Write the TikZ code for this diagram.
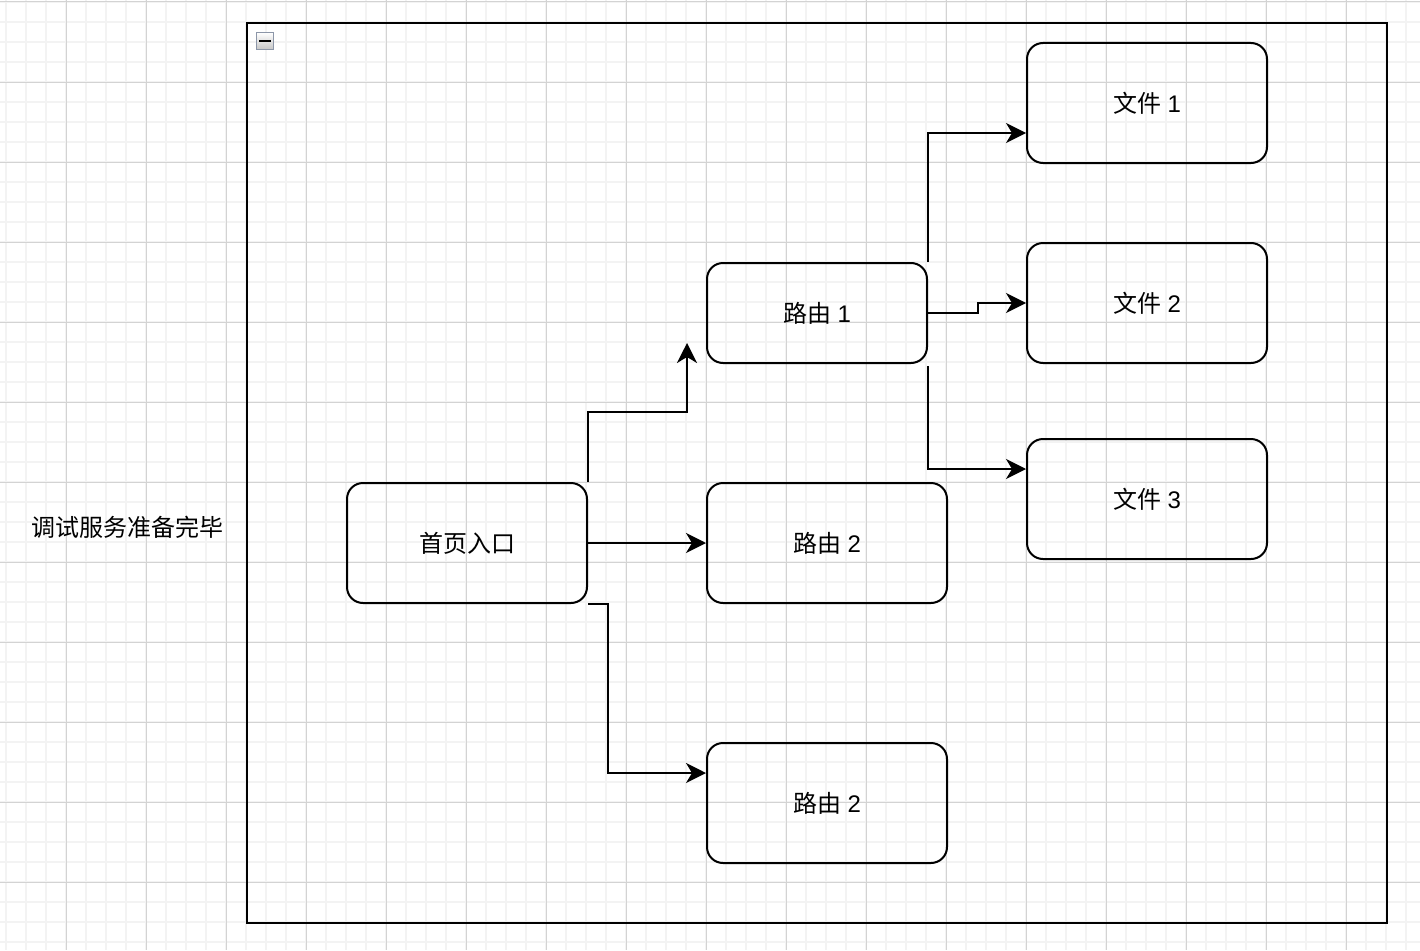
\documentclass[tikz,border=0pt]{standalone}
\usepackage{fontspec}
\setmainfont{Liberation Sans}
\newfontfamily\cjk{Noto Sans CJK SC}
\usetikzlibrary{arrows.meta,positioning,calc}
\definecolor{gridminor}{HTML}{F3F3F3}
\definecolor{gridmajor}{HTML}{D3D3D3}
\definecolor{iconborder}{HTML}{8C96A8}
\tikzset{
  box/.style={draw=black, line width=2pt, rounded corners=16pt, fill=none,
    inner sep=0pt, font=\fontsize{24}{28}\selectfont},
  arr/.style={draw=black, line width=2pt, -{Stealth[length=20pt,width=20pt,inset=6pt]}},
  lbl/.style={font=\fontsize{24}{28}\selectfont, inner sep=0pt}
}
\begin{document}
\begin{tikzpicture}[x=1pt,y=-1pt]
\useasboundingbox (0,0) rectangle (1420,950);
\fill[white] (0,0) rectangle (1420,950);
% grid
\foreach \x in {6,26,...,1406} \draw[gridminor, line width=1.5pt] (\x,0) -- (\x,950);
\foreach \y in {2,22,...,942} \draw[gridminor, line width=1.5pt] (0,\y) -- (1420,\y);
\foreach \x in {66,146,...,1406} \draw[gridmajor, line width=1pt] (\x,0) -- (\x,950);
\foreach \y in {2,82,...,942} \draw[gridmajor, line width=1pt] (0,\y) -- (1420,\y);
% container
\node[draw=black, line width=2pt, minimum width=1140pt, minimum height=900pt, inner sep=0pt, anchor=north west] (container) at (246,22) {};
% collapse icon
\node[draw=iconborder, line width=1.5pt, top color=white, bottom color=gray!45, minimum width=17pt, minimum height=17pt, inner sep=0pt] (icon) at (265,41) {};
\draw[black, line width=2.2pt] ($(icon.center)+(-6,0)$) -- ($(icon.center)+(6,0)$);
% label
\node[lbl] (ready) at (127,527) {\cjk 调试服务准备完毕};
% nodes
\node[box, minimum width=240pt, minimum height=120pt] (home) at (467,543) {\cjk 首页入口};
\node[box, minimum width=220pt, minimum height=100pt] (r1) at (817,313) {{\cjk 路由} 1};
\node[box, minimum width=240pt, minimum height=120pt] (r2a) at (827,543) {{\cjk 路由} 2};
\node[box, minimum width=240pt, minimum height=120pt] (r2b) at (827,803) {{\cjk 路由} 2};
\node[box, minimum width=240pt, minimum height=120pt] (f1) at (1147,103) {{\cjk 文件} 1};
\node[box, minimum width=240pt, minimum height=120pt] (f2) at (1147,303) {{\cjk 文件} 2};
\node[box, minimum width=240pt, minimum height=120pt] (f3) at (1147,499) {{\cjk 文件} 3};
% free end
\coordinate (r1arr) at (687,343);
% edges
\draw[arr] (home.north east) -- ++(0,-70) -| (r1arr);
\draw[arr] (home.east) -- (r2a.west);
\draw[arr] (home.south east) -- ++(20,0) |- ([yshift=30pt]r2b.west);
\draw[arr] (r1.north east) |- ([yshift=-30pt]f1.west);
\draw[arr] (r1.east) -- ++(50,0) |- (f2.west);
\draw[arr] ([yshift=-2pt]r1.south east) |- ([yshift=30pt]f3.west);
\end{tikzpicture}
\end{document}
